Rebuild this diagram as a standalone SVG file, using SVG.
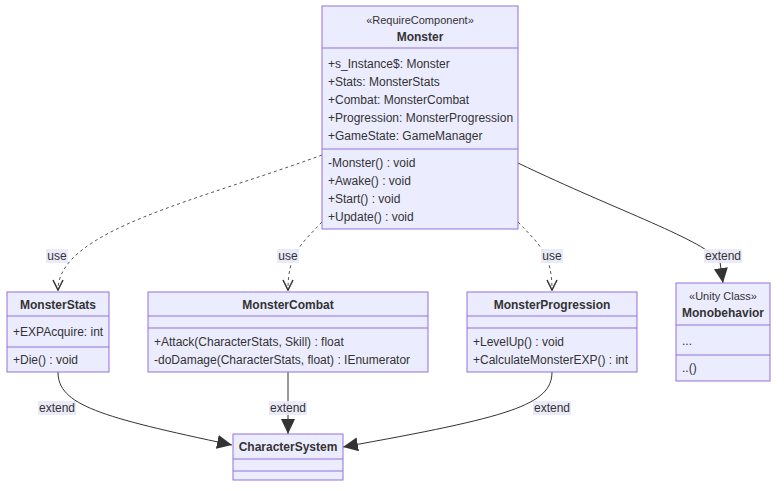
<svg xmlns="http://www.w3.org/2000/svg" width="784" height="491" viewBox="0 0 784 491">
<style>
.box{fill:#ECECFF;stroke:#9370DB;stroke-width:1}
.div{stroke:#9370DB;stroke-width:1}
text{font-family:"Liberation Sans","DejaVu Sans",sans-serif;font-size:12px;fill:#333}
.t{font-weight:bold;text-anchor:middle}
.s{text-anchor:middle;font-size:11px}
.edge{fill:none;stroke:#333;stroke-width:1}
.dash{stroke-dasharray:3,3;stroke:#555}
.lblbg{fill:#E8E8F8;opacity:0.9}
.lbl{text-anchor:middle}
</style>
<defs>
<marker id="dep" viewBox="0 0 12 12" refX="11" refY="6" markerWidth="12" markerHeight="12" markerUnits="userSpaceOnUse" orient="auto">
<path d="M1,1 L11,6 L1,11" fill="none" stroke="#333" stroke-width="1.5"/>
</marker>
<marker id="ext" viewBox="0 0 16 14" refX="15" refY="7" markerWidth="16" markerHeight="14" markerUnits="userSpaceOnUse" orient="auto">
<path d="M0,0 L15,7 L0,14 Z" fill="#333"/>
</marker>
</defs>

<g id="edges">
<path class="edge dash" d="M322,155 C200,200 58,230 58,290" marker-end="url(#dep)"/>
<path class="edge dash" d="M322,222 C300,245 288,255 288,290" marker-end="url(#dep)"/>
<path class="edge dash" d="M518,222 C540,245 552,255 552,290" marker-end="url(#dep)"/>
<path class="edge" d="M518,163 C620,212 705,240 720,262 L723,283" marker-end="url(#ext)"/>
<path class="edge" d="M58,372 C58,405 100,417 232,445" marker-end="url(#ext)"/>
<path class="edge" d="M288,372 L288,434" marker-end="url(#ext)"/>
<path class="edge" d="M552,372 C552,405 510,417 343,447" marker-end="url(#ext)"/>
<rect class="lblbg" x="46" y="249" width="22" height="14"/>
<text class="lbl" x="57" y="260">use</text>
<rect class="lblbg" x="277" y="249" width="22" height="14"/>
<text class="lbl" x="288" y="260">use</text>
<rect class="lblbg" x="541" y="249" width="22" height="14"/>
<text class="lbl" x="552" y="260">use</text>
<rect class="lblbg" x="704" y="249" width="38" height="14"/>
<text class="lbl" x="723" y="260">extend</text>
<rect class="lblbg" x="38" y="401" width="38" height="14"/>
<text class="lbl" x="57" y="412">extend</text>
<rect class="lblbg" x="269" y="401" width="38" height="14"/>
<text class="lbl" x="288" y="412">extend</text>
<rect class="lblbg" x="533" y="401" width="38" height="14"/>
<text class="lbl" x="552" y="412">extend</text>
</g>

<g id="Monster">
<rect class="box" x="322" y="6" width="196" height="223"/>
<line class="div" x1="322" y1="48" x2="518" y2="48"/>
<line class="div" x1="322" y1="149" x2="518" y2="149"/>
<text class="s" x="420" y="24">«RequireComponent»</text>
<text class="t" x="420" y="41">Monster</text>
<text x="328" y="68">+s_Instance$: Monster</text>
<text x="328" y="86">+Stats: MonsterStats</text>
<text x="328" y="104">+Combat: MonsterCombat</text>
<text x="328" y="122">+Progression: MonsterProgression</text>
<text x="328" y="140">+GameState: GameManager</text>
<text x="328" y="167">-Monster() : void</text>
<text x="328" y="185">+Awake() : void</text>
<text x="328" y="203">+Start() : void</text>
<text x="328" y="221">+Update() : void</text>
</g>

<g id="MonsterStats">
<rect class="box" x="7" y="292" width="102" height="80"/>
<line class="div" x1="7" y1="316" x2="109" y2="316"/>
<line class="div" x1="7" y1="347" x2="109" y2="347"/>
<text class="t" x="58" y="309">MonsterStats</text>
<text x="13" y="336">+EXPAcquire: int</text>
<text x="13" y="364">+Die() : void</text>
</g>

<g id="MonsterCombat">
<rect class="box" x="148" y="292" width="280" height="80"/>
<line class="div" x1="148" y1="316" x2="428" y2="316"/>
<line class="div" x1="148" y1="328" x2="428" y2="328"/>
<text class="t" x="288" y="309">MonsterCombat</text>
<text x="154" y="346">+Attack(CharacterStats, Skill) : float</text>
<text x="154" y="364">-doDamage(CharacterStats, float) : IEnumerator</text>
</g>

<g id="MonsterProgression">
<rect class="box" x="467" y="292" width="170" height="80"/>
<line class="div" x1="467" y1="316" x2="637" y2="316"/>
<line class="div" x1="467" y1="328" x2="637" y2="328"/>
<text class="t" x="552" y="309">MonsterProgression</text>
<text x="473" y="346">+LevelUp() : void</text>
<text x="473" y="364">+CalculateMonsterEXP() : int</text>
</g>

<g id="Monobehavior">
<rect class="box" x="676" y="283" width="94" height="98"/>
<line class="div" x1="676" y1="325" x2="770" y2="325"/>
<line class="div" x1="676" y1="355" x2="770" y2="355"/>
<text class="s" x="723" y="300">«Unity Class»</text>
<text class="t" x="723" y="317">Monobehavior</text>
<text x="682" y="345">...</text>
<text x="682" y="372">..()</text>
</g>

<g id="CharacterSystem">
<rect class="box" x="233" y="434" width="110" height="46"/>
<line class="div" x1="233" y1="459" x2="343" y2="459"/>
<line class="div" x1="233" y1="471" x2="343" y2="471"/>
<text class="t" x="288" y="451">CharacterSystem</text>
</g>
</svg>
